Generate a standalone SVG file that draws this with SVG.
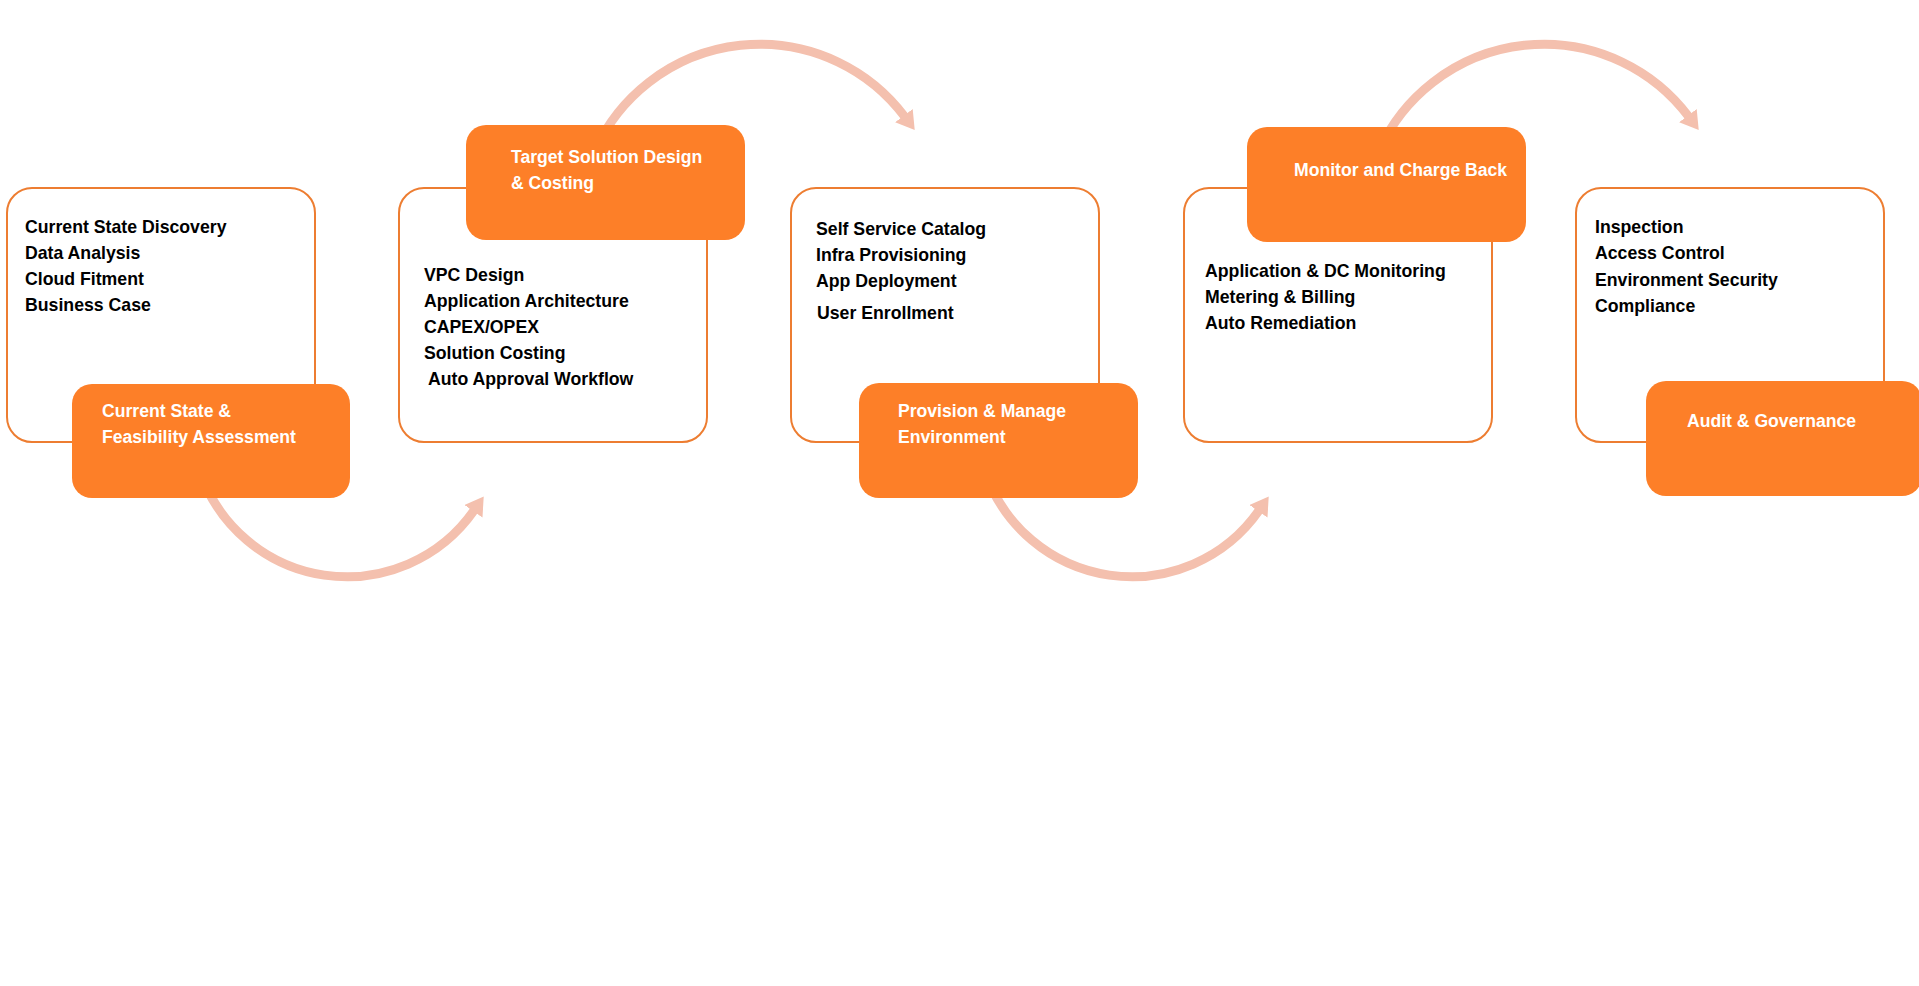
<svg xmlns="http://www.w3.org/2000/svg" width="1919" height="986" viewBox="0 0 1919 986">
  <style>
    .box { fill: #FFFFFF; stroke: #ED7D31; stroke-width: 2; }
    .tag { fill: #FD7F28; }
    .item { font-family: "Liberation Sans", Arial, sans-serif; font-weight: bold; font-size: 17.7px; fill: #000000; }
    .tagtext { font-family: "Liberation Sans", Arial, sans-serif; font-weight: bold; font-size: 17.6px; fill: #FFFFFF; }
    .arc { fill: none; stroke: #F4C0AE; stroke-width: 9; }
  </style>
  <defs>
    <marker id="head" viewBox="0 0 18 22" refX="1" refY="11" markerWidth="18" markerHeight="22" markerUnits="userSpaceOnUse" orient="auto">
      <path d="M0,0 L18,11 L0,22 Z" fill="#F4C0AE"/>
    </marker>
  </defs>
  <rect x="0" y="0" width="1919" height="986" fill="#FFFFFF"/>

  <g id="connectors">
    <path class="arc" d="M199.6,470 A155,155 0 0 0 474,510.5" marker-end="url(#head)"/>
    <path class="arc" d="M595.3,150 A181,181 0 0 1 904.5,116.4" marker-end="url(#head)"/>
    <path class="arc" d="M984.6,470 A155,155 0 0 0 1259,510.5" marker-end="url(#head)"/>
    <path class="arc" d="M1379.3,150 A181,181 0 0 1 1688.5,116.4" marker-end="url(#head)"/>
  </g>

  <g id="stage1">
    <rect class="box" x="7" y="188" width="308" height="254" rx="25" ry="25"/>
    <text class="item" x="25" y="233">Current State Discovery</text>
    <text class="item" x="25" y="259">Data Analysis</text>
    <text class="item" x="25" y="285">Cloud Fitment</text>
    <text class="item" x="25" y="311">Business Case</text>
    <rect class="tag" x="72" y="384" width="278" height="114" rx="20" ry="20"/>
    <text class="tagtext" x="102" y="417">Current State &amp;</text>
    <text class="tagtext" x="102" y="443">Feasibility Assessment</text>
  </g>

  <g id="stage2">
    <rect class="box" x="399" y="188" width="308" height="254" rx="25" ry="25"/>
    <text class="item" x="424" y="281">VPC Design</text>
    <text class="item" x="424" y="307">Application Architecture</text>
    <text class="item" x="424" y="333">CAPEX/OPEX</text>
    <text class="item" x="424" y="359">Solution Costing</text>
    <text class="item" x="428" y="385">Auto Approval Workflow</text>
    <rect class="tag" x="466" y="125" width="279" height="115" rx="20" ry="20"/>
    <text class="tagtext" x="511" y="163">Target Solution Design</text>
    <text class="tagtext" x="511" y="189">&amp; Costing</text>
  </g>

  <g id="stage3">
    <rect class="box" x="791" y="188" width="308" height="254" rx="25" ry="25"/>
    <text class="item" x="816" y="235">Self Service Catalog</text>
    <text class="item" x="816" y="261">Infra Provisioning</text>
    <text class="item" x="816" y="287">App Deployment</text>
    <text class="item" x="817" y="319">User Enrollment</text>
    <rect class="tag" x="859" y="383" width="279" height="115" rx="20" ry="20"/>
    <text class="tagtext" x="898" y="417">Provision &amp; Manage</text>
    <text class="tagtext" x="898" y="443">Environment</text>
  </g>

  <g id="stage4">
    <rect class="box" x="1184" y="188" width="308" height="254" rx="25" ry="25"/>
    <text class="item" x="1205" y="277">Application &amp; DC Monitoring</text>
    <text class="item" x="1205" y="303">Metering &amp; Billing</text>
    <text class="item" x="1205" y="329">Auto Remediation</text>
    <rect class="tag" x="1247" y="127" width="279" height="115" rx="20" ry="20"/>
    <text class="tagtext" x="1294" y="176">Monitor and Charge Back</text>
  </g>

  <g id="stage5">
    <rect class="box" x="1576" y="188" width="308" height="254" rx="25" ry="25"/>
    <text class="item" x="1595" y="233">Inspection</text>
    <text class="item" x="1595" y="259">Access Control</text>
    <text class="item" x="1595" y="286">Environment Security</text>
    <text class="item" x="1595" y="312">Compliance</text>
    <rect class="tag" x="1646" y="381" width="276" height="115" rx="20" ry="20"/>
    <text class="tagtext" x="1687" y="427">Audit &amp; Governance</text>
  </g>
</svg>
